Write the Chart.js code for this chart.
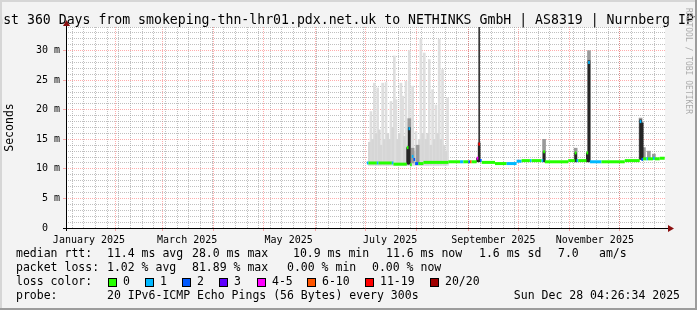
<!DOCTYPE html>
<html>
<head>
<meta charset="utf-8">
<style>
	html, body { margin: 0; padding: 0; background: #f3f3f3; }
</style>
<script src="https://cdn.jsdelivr.net/npm/chart.js@4.4.1/dist/chart.umd.min.js"></script>
</head>
<body>
<canvas id="chartSmoke" width="697" height="310"></canvas>
<script>
const chartTitle = "Last 360 Days from smokeping-thn-lhr01.pdx.net.uk to NETHINKS GmbH | AS8319 | Nurnberg IPv6";
const rangeStart = "2025-01-02T04:26:34Z";
const rangeEnd = "2025-12-28T04:26:34Z";

// month labels sit in the middle of the month, red lines on the 1st
const monthLabels = ["January 2025", "March 2025", "May 2025", "July 2025", "September 2025", "November 2025"];
const monthLabelDates = ["2025-01-16", "2025-03-16", "2025-05-16", "2025-07-16", "2025-09-16", "2025-11-16"];
const monthStarts = ["2025-02-01", "2025-03-01", "2025-04-01", "2025-05-01", "2025-06-01", "2025-07-01", "2025-08-01", "2025-09-01", "2025-10-01", "2025-11-01", "2025-12-01"];

const yMax = 34;

const lossLabels = ["0", "1", "2", "3", "4-5", "6-10", "11-19", "20/20"];
const lossColors = ["#26ff00", "#00b8ff", "#0059ff", "#5e00ff", "#ff00ff", "#ff5500", "#ff0000", "#a00000"];

/* median rtt in ms, each value holds until the next date */
const medianDates = ["2025-07-02", "2025-07-03", "2025-07-08", "2025-07-09", "2025-07-17", "2025-07-18", "2025-07-26", "2025-07-27", "2025-07-28", "2025-07-29", "2025-07-30", "2025-07-31", "2025-08-02", "2025-08-05", "2025-08-20", "2025-08-27", "2025-08-29", "2025-09-01", "2025-09-02", "2025-09-03", "2025-09-06", "2025-09-07", "2025-09-08", "2025-09-09", "2025-09-17", "2025-09-24", "2025-09-30", "2025-10-03", "2025-10-08", "2025-10-09", "2025-10-15", "2025-10-16", "2025-10-17", "2025-10-31", "2025-11-04", "2025-11-05", "2025-11-06", "2025-11-11", "2025-11-12", "2025-11-13", "2025-11-20", "2025-12-04", "2025-12-13", "2025-12-14", "2025-12-15", "2025-12-17", "2025-12-18", "2025-12-21", "2025-12-22", "2025-12-25"];
const medianValues = [11.0, 11.0, 11.0, 11.0, 11.0, 10.8, 13.6, 16.8, 10.7, 12.1, 11.6, 10.9, 10.9, 11.1, 11.2, 11.2, 11.2, 11.2, 11.2, 11.2, 11.8, 14.2, 11.4, 11.1, 10.9, 10.9, 11.3, 11.4, 11.4, 11.4, 11.4, 12.9, 11.2, 11.4, 12.7, 11.4, 11.4, 12.7, 28.0, 11.2, 11.2, 11.4, 18.0, 11.6, 11.7, 11.7, 11.7, 11.8, 11.7, 11.8];
const medianLoss = [1, 0, 1, 0, 1, 0, 0, 1, 0, 1, 2, 2, 0, 0, 0, 1, 0, 2, 5, 0, 4, 6, 2, 0, 0, 1, 1, 0, 1, 0, 1, 0, 0, 0, 0, 1, 0, 0, 1, 1, 0, 0, 1, 2, 0, 1, 0, 1, 0, 0];
const medianEnd = "2025-12-28";

/* light smoke, floor to top in ms */
const smokeDates = ["2025-07-04", "2025-07-06", "2025-07-08", "2025-07-11", "2025-07-13", "2025-07-16", "2025-07-18", "2025-07-19", "2025-07-22", "2025-07-23", "2025-07-25", "2025-07-27", "2025-07-29", "2025-07-31", "2025-08-03", "2025-08-05", "2025-08-08", "2025-08-10", "2025-08-12", "2025-08-14", "2025-08-16", "2025-08-19"];
const smokeTops = [19.7, 24.5, 23.7, 24.5, 24.6, 21.4, 29.1, 21.7, 24.5, 22.3, 24.8, 30.0, 24.0, 16.3, 31.9, 29.6, 28.5, 23.4, 20.8, 31.9, 26.8, 22.0];
const smokeLowDates = ["2025-07-03", "2025-07-05", "2025-07-07", "2025-07-09", "2025-07-10", "2025-07-12", "2025-07-14", "2025-07-15", "2025-07-17", "2025-07-20", "2025-07-21", "2025-07-24", "2025-07-26", "2025-07-28", "2025-07-30", "2025-08-01", "2025-08-02", "2025-08-04", "2025-08-06", "2025-08-07", "2025-08-09", "2025-08-11", "2025-08-13", "2025-08-15", "2025-08-17", "2025-08-18"];
const smokeLowTops = [14.5, 15.0, 16.0, 16.6, 14.0, 15.0, 16.0, 15.0, 17.0, 15.0, 16.0, 15.5, 14.0, 13.0, 13.0, 14.0, 15.0, 16.0, 15.0, 16.0, 14.0, 15.0, 16.0, 15.0, 14.0, 13.0];
const smokeFloor = 10.6;

/* grey and dark smoke around the spikes */
const greyDates = ["2025-07-27", "2025-07-29", "2025-08-01", "2025-10-16", "2025-11-04", "2025-11-12", "2025-12-13", "2025-12-15", "2025-12-18", "2025-12-21"];
const greyLow = [11.0, 11.0, 11.0, 11.2, 11.2, 11.2, 11.6, 11.6, 11.6, 11.6];
const greyHigh = [18.5, 13.5, 14.0, 15.0, 13.5, 30.0, 18.6, 13.6, 13.0, 12.5];
const darkDates = ["2025-07-26", "2025-07-27", "2025-09-06", "2025-09-07", "2025-10-16", "2025-11-04", "2025-11-11", "2025-11-12", "2025-12-13", "2025-12-14"];
const darkLow = [10.8, 10.8, 11.2, 11.2, 11.2, 11.2, 11.2, 11.2, 11.6, 11.6];
const darkHigh = [13.6, 17.0, 11.8, 14.4, 12.9, 12.7, 12.7, 28.3, 18.3, 17.8];
const thinDates = ["2025-09-07"];
const thinLow = [14.4];
const thinHigh = [34.0];

/* legend texts */
const medianStats = ["11.4 ms avg", "28.0 ms max", "10.9 ms min", "11.6 ms now", "1.6 ms sd", "7.0", "am/s"];
const lossStats = ["1.02 % avg", "81.89 % max", "0.00 % min", "0.00 % now"];
const probeText = "20 IPv6-ICMP Echo Pings (56 Bytes) every 300s";
const stampText = "Sun Dec 28 04:26:34 2025";

const DAY = 86400000;
const mono = "\"DejaVu Sans Mono\", monospace";
const majorGrid = "rgba(255, 70, 70, 0.45)";
const minorGrid = "rgba(150, 150, 150, 0.6)";

function ms(d) {
	return Date.parse(d);
}

// median as flat steps: start and end point for every step
const medianPoints = [];
medianDates.forEach((d, i) => {
	const next = i + 1 < medianDates.length ? medianDates[i + 1] : medianEnd;
	medianPoints.push({ x: ms(d), y: medianValues[i], loss: medianLoss[i] });
	medianPoints.push({ x: ms(next), y: medianValues[i], loss: medianLoss[i] });
});

function floating(dates, lows, highs) {
	return dates.map((d, i) => ({ x: ms(d) + DAY / 2, y: [Array.isArray(lows) ? lows[i] : lows, highs[i]] }));
}

// x ticks: Mondays (minor), month starts (major), mid month (labels)
const xTicks = [];
for (let t = ms("2025-01-06"); t < ms(rangeEnd); t += 7 * DAY) xTicks.push({ value: t, kind: "minor" });
monthStarts.forEach((d) => xTicks.push({ value: ms(d), kind: "major" }));
monthLabelDates.forEach((d, i) => xTicks.push({ value: ms(d), kind: "label", text: monthLabels[i] }));
xTicks.sort((a, b) => a.value - b.value);

const decor = {
	id: "decor",
	beforeDraw(chart) {
		const { ctx, chartArea: a } = chart;
		ctx.save();
		ctx.fillStyle = "#f3f3f3";
		ctx.fillRect(0, 0, chart.width, chart.height);
		ctx.fillStyle = "#ffffff";
		ctx.fillRect(a.left, a.top, a.right - a.left, a.bottom - a.top);
		ctx.restore();
	},
	afterDraw(chart) {
		const { ctx, chartArea: a } = chart;
		ctx.save();

		// axes with arrows
		ctx.strokeStyle = "#000";
		ctx.lineWidth = 1;
		ctx.beginPath();
		ctx.moveTo(a.left - 3, a.bottom + 0.5);
		ctx.lineTo(a.right + 3, a.bottom + 0.5);
		ctx.moveTo(a.left + 0.5, a.bottom + 3);
		ctx.lineTo(a.left + 0.5, a.top - 1);
		ctx.stroke();
		ctx.fillStyle = "#8b1010";
		ctx.beginPath();
		ctx.moveTo(a.right + 3, a.bottom - 3);
		ctx.lineTo(a.right + 9, a.bottom + 0.5);
		ctx.lineTo(a.right + 3, a.bottom + 4);
		ctx.fill();
		ctx.beginPath();
		ctx.moveTo(a.left - 3, a.top - 1);
		ctx.lineTo(a.left + 0.5, a.top - 7);
		ctx.lineTo(a.left + 4, a.top - 1);
		ctx.fill();

		// title, cut off on both sides like the original
		ctx.fillStyle = "#000";
		ctx.font = "13.2px " + mono;
		ctx.textAlign = "center";
		ctx.textBaseline = "alphabetic";
		ctx.fillText(chartTitle, chart.width / 2, 24);

		// watermark
		ctx.save();
		ctx.translate(688, 8);
		ctx.rotate(Math.PI / 2);
		ctx.font = "8px " + mono;
		ctx.fillStyle = "#ababab";
		ctx.textAlign = "left";
		ctx.textBaseline = "middle";
		ctx.fillText("RRDTOOL / TOBI OETIKER", 0, 0);
		ctx.restore();

		// legend
		ctx.font = "11.5px " + mono;
		ctx.fillStyle = "#000";
		ctx.textAlign = "left";
		ctx.textBaseline = "middle";
		ctx.fillText("median rtt:", 16, 254);
		[107, 192, 293, 386, 479, 558, 599].forEach((x, i) => ctx.fillText(medianStats[i], x, 254));
		ctx.fillText("packet loss:", 16, 268);
		[107, 192, 287, 372].forEach((x, i) => ctx.fillText(lossStats[i], x, 268));
		ctx.fillText("loss color:", 16, 282.5);
		[108, 145, 182, 219, 257, 307, 365, 430].forEach((x, i) => {
			ctx.fillStyle = lossColors[i];
			ctx.fillRect(x, 278, 9, 9);
			ctx.strokeStyle = "#000";
			ctx.strokeRect(x + 0.5, 278.5, 8, 8);
			ctx.fillStyle = "#000";
			ctx.fillText(lossLabels[i], x + 15, 282.5);
		});
		ctx.fillText("probe:", 16, 296.5);
		ctx.fillText(probeText, 107, 296.5);
		ctx.textAlign = "right";
		ctx.fillText(stampText, 680, 296.5);

		// frame
		ctx.fillStyle = "#d6d6d6";
		ctx.fillRect(0, 0, chart.width, 2);
		ctx.fillRect(0, 0, 2, chart.height);
		ctx.fillStyle = "#9c9c9c";
		ctx.fillRect(chart.width - 2, 0, 2, chart.height);
		ctx.fillRect(0, chart.height - 2, chart.width, 2);
		ctx.restore();
	},
};

const ctx = document.getElementById("chartSmoke").getContext("2d");

new Chart(ctx, {
	type: "bar",
	data: {
		datasets: [
			{
				type: "line",
				label: "median rtt",
				data: medianPoints,
				borderColor: lossColors[0],
				borderWidth: 3,
				borderCapStyle: "butt",
				pointRadius: 0,
				tension: 0,
				order: 0,
				segment: {
					borderColor: (c) => (c.p0.parsed.x === c.p1.parsed.x ? "rgba(0,0,0,0)" : lossColors[medianPoints[c.p0DataIndex].loss]),
				},
			},
			{
				label: "thin",
				data: floating(thinDates, thinLow, thinHigh),
				backgroundColor: "#3a3a3a",
				barThickness: 1,
				grouped: false,
				order: 1,
			},
			{
				label: "dark",
				data: floating(darkDates, darkLow, darkHigh),
				backgroundColor: "#262626",
				barThickness: 2,
				grouped: false,
				order: 2,
			},
			{
				label: "grey",
				data: floating(greyDates, greyLow, greyHigh),
				backgroundColor: "#9a9a9a",
				barThickness: 3,
				grouped: false,
				order: 3,
			},
			{
				label: "smoke low",
				data: floating(smokeLowDates, smokeFloor, smokeLowTops),
				backgroundColor: "#d6d6d6",
				barThickness: 2,
				grouped: false,
				order: 4,
			},
			{
				label: "smoke",
				data: floating(smokeDates, smokeFloor, smokeTops),
				backgroundColor: "#dedede",
				barThickness: 2,
				grouped: false,
				order: 5,
			},
		],
	},
	options: {
		responsive: false,
		animation: false,
		devicePixelRatio: 1,
		layout: { padding: { left: 0, top: 27, right: 32, bottom: 0 } },
		plugins: {
			legend: { display: false },
			tooltip: { enabled: false },
		},
		scales: {
			x: {
				type: "linear",
				min: ms(rangeStart),
				max: ms(rangeEnd),
				offset: false,
				afterBuildTicks: (scale) => {
					scale.ticks = xTicks.map((t) => ({ value: t.value, kind: t.kind }));
				},
				afterFit: (scale) => {
					scale.height = 82;
				},
				grid: {
					offset: false,
					tickLength: 3,
					color: (c) => (!c.tick ? minorGrid : c.tick.kind === "major" ? majorGrid : c.tick.kind === "minor" ? minorGrid : "rgba(0,0,0,0)"),
					tickColor: (c) => (c.tick && c.tick.kind === "major" ? majorGrid : "rgba(0,0,0,0)"),
				},
				border: { display: false, dash: [1, 1] },
				ticks: {
					autoSkip: false,
					maxRotation: 0,
					minRotation: 0,
					padding: 3,
					color: "#000",
					font: { family: mono, size: 10 },
					callback: (value, i) => {
						const hit = xTicks.find((t) => t.value === value && t.kind === "label");
						return hit ? hit.text : "";
					},
				},
			},
			y: {
				type: "linear",
				min: 0,
				max: yMax,
				afterFit: (scale) => {
					scale.width = 66;
				},
				grid: {
					tickLength: 3,
					color: (c) => (c.tick && c.tick.value % 5 === 0 ? majorGrid : minorGrid),
					tickColor: (c) => (c.tick && c.tick.value % 5 === 0 && c.tick.value > 0 ? majorGrid : "rgba(0,0,0,0)"),
				},
				border: { display: false, dash: [1, 1] },
				title: {
					display: true,
					text: "Seconds",
					color: "#000",
					font: { family: mono, size: 11.5 },
					padding: { top: 3.5, bottom: 0 },
				},
				ticks: {
					stepSize: 1,
					autoSkip: false,
					padding: 3,
					color: "#000",
					font: { family: mono, size: 10 },
					callback: (v) => (v % 5 !== 0 ? "" : v === 0 ? "0  " : v + " m"),
				},
			},
		},
	},
	plugins: [decor],
});
</script>
</body>
</html>
